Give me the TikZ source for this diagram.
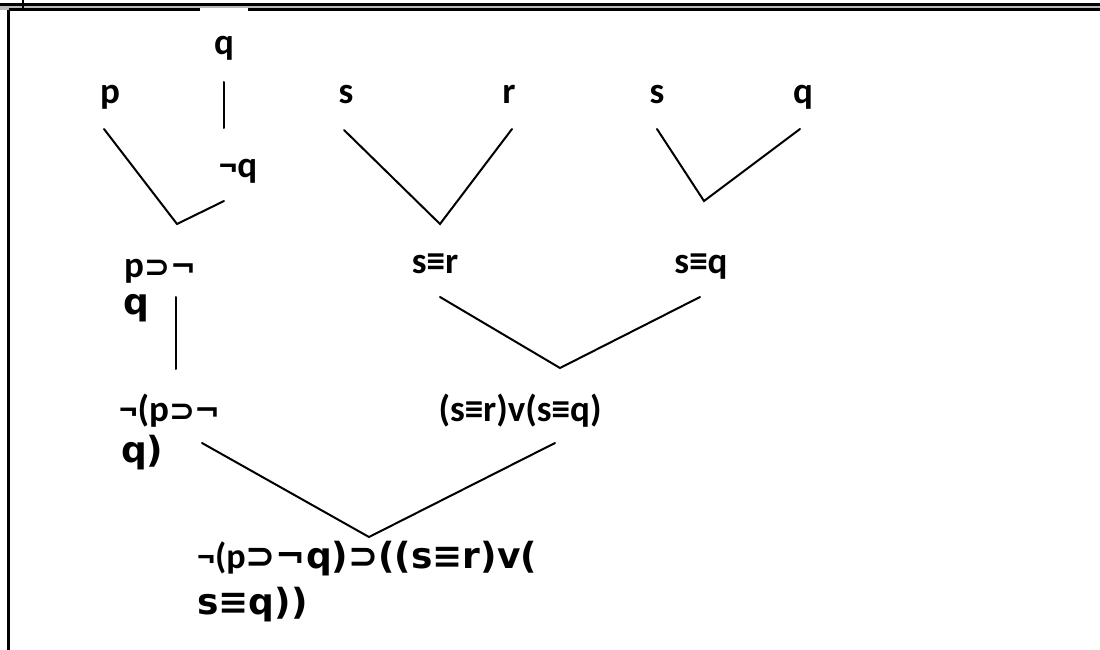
\documentclass[tikz,border=0pt]{standalone}
\usepackage{fontspec}
\setmainfont{Carlito}
\newfontfamily\djv{DejaVu Sans}
\newcommand\bigdj{\fontsize{36}{36}\selectfont\djv\bfseries}
\newcommand\middj{\fontsize{31}{31}\selectfont\djv\bfseries}
\begin{document}
\begin{tikzpicture}[x=1pt,y=-1pt,
  lbl/.style={inner sep=0pt, anchor=base, font=\fontsize{37}{37}\selectfont\bfseries},
  lblw/.style={lbl, anchor=base west},
  edge/.style={line width=2pt, black, line cap=round, line join=miter},
  frame/.style={line width=2.4pt, black}]
\useasboundingbox (0,0) rectangle (1100,650);
% frame
\fill[gray!55] (0,4) rectangle (1100,10);
\draw[frame] (0,4.6) -- (1100,4.6);
\draw[frame] (8.5,9.6) -- (1100,9.6);
\draw[frame] (8.5,9.6) -- (8.5,650);
\draw[line width=1.2pt] (23,0) -- (23,9);
\fill[white] (200,8.2) rectangle (248,11);
% labels
\node[lbl] (q1) at (224,55) {q};
\node[lbl] (p1) at (110,104) {p};
\node[lbl] (nq) at (238,177) {¬q};
\node[lbl] (s1) at (346,104) {s};
\node[lbl] (r1) at (509,104) {r};
\node[lbl] (s2) at (657,104) {s};
\node[lbl] (q2) at (803,104) {q};
\node[lblw] (pnq) at (124,277) {p\middj ⊃¬};
\node[lblw] (pnqb) at (123,314) {\bigdj q};
\node[lbl] (sr) at (435,273) {s≡r};
\node[lbl] (sq) at (701,273) {s≡q};
\node[lblw] (npnq) at (119,421) {¬(p\middj ⊃¬};
\node[lblw] (npnqb) at (121,462) {\bigdj q)};
\node[lbl] (dis) at (520,421) {(s≡r)v(s≡q)};
\node[lblw] (imp) at (197,568) {{\fontsize{36}{36}\selectfont ¬(p}\bigdj ⊃¬q)⊃((s≡r)v(};
\node[lblw] (impb) at (197,614) {\bigdj s≡q))};
% connector end points
\coordinate (a1) at (224,82);  \coordinate (a2) at (224,128);
\coordinate (b1) at (104,129); \coordinate (b2) at (177,224); \coordinate (b3) at (224,201);
\coordinate (c1) at (344,130); \coordinate (c2) at (440,224); \coordinate (c3) at (512,129);
\coordinate (d1) at (657,129); \coordinate (d2) at (704,201); \coordinate (d3) at (800,129);
\coordinate (e1) at (176,297); \coordinate (e2) at (176,369);
\coordinate (f1) at (440,297); \coordinate (f2) at (560,368); \coordinate (f3) at (700,297);
\coordinate (g1) at (202,443); \coordinate (g2) at (369,537); \coordinate (g3) at (555,443);
\draw[edge] (a1) -- (a2);
\draw[edge] (b1) -- (b2) -- (b3);
\draw[edge] (c1) -- (c2) -- (c3);
\draw[edge] (d1) -- (d2) -- (d3);
\draw[edge] (e1) -- (e2);
\draw[edge] (f1) -- (f2) -- (f3);
\draw[edge] (g1) -- (g2) -- (g3);
\end{tikzpicture}
\end{document}
